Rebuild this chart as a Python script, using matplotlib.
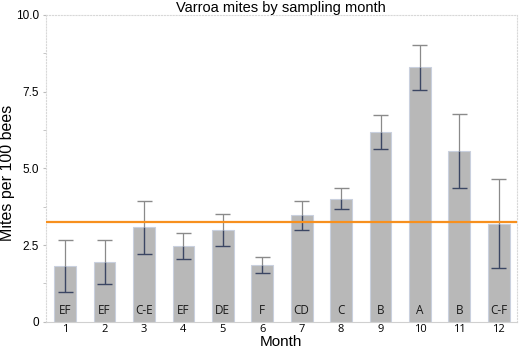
import numpy as np
import matplotlib.pyplot as plt

# data
months = np.arange(1, 13)
means = [1.83, 1.95, 3.09, 2.48, 2.99, 1.85, 3.48, 4.01, 6.20, 8.29, 5.57, 3.20]
lower = [0.96, 1.22, 2.22, 2.04, 2.47, 1.59, 2.99, 3.66, 5.64, 7.55, 4.35, 1.74]
upper = [2.66, 2.66, 3.93, 2.90, 3.51, 2.12, 3.94, 4.35, 6.74, 9.01, 6.77, 4.64]
groups = ["EF", "EF", "C-E", "EF", "DE", "F", "CD", "C", "B", "A", "B", "C-F"]
threshold = 3.25

fig = plt.figure(figsize=(5.2, 3.48), dpi=100)
ax = fig.add_axes([0.0875, 0.0756, 0.9065, 0.8814])

ax.bar(months, means, width=0.55, color="#b8b8b8", edgecolor="#c9d0de", linewidth=0.8, zorder=2)

# error bars: dark below the mean, light grey above it
dark = "#3b4663"
light = "#8a8a8a"
ax.vlines(months, lower, means, color=dark, linewidth=1.0, zorder=3)
ax.vlines(months, means, upper, color=light, linewidth=0.9, zorder=3)
ax.hlines(lower, months - 0.19, months + 0.19, color=dark, linewidth=1.0, zorder=3)
ax.hlines(upper, months - 0.19, months + 0.19, color=light, linewidth=1.0, zorder=3)

ax.axhline(threshold, color="#f7901e", linewidth=1.6, zorder=4)

for m, g in zip(months, groups):
    ax.text(m, 0.36, g, ha="center", va="center", fontsize=8.5, family="Open Sans", color="#1a1a1a", zorder=5)

ax.set_xlim(0.5, 12.46)
ax.set_ylim(0, 10)
ax.set_xticks(months)
ax.set_xticklabels([str(m) for m in months], family="Open Sans", fontsize=8)
ax.set_yticks([0, 2.5, 5, 7.5, 10])
ax.set_yticklabels(["0", "2.5", "5.0", "7.5", "10.0"], family="Liberation Sans", fontsize=8.5)
ax.set_yticks([1.25, 3.75, 6.25, 8.75], minor=True)
ax.tick_params(axis="x", length=0, pad=1.5)
ax.tick_params(axis="y", which="both", length=2.5, color="#bbbbbb", pad=2)

for side in ["top", "right", "left"]:
    ax.spines[side].set_color("#d8d8d8")
    ax.spines[side].set_linestyle(":")
    ax.spines[side].set_linewidth(0.8)
ax.spines["bottom"].set_color("#d0d0d0")
ax.spines["bottom"].set_linewidth(0.8)

ax.set_title("Varroa mites by sampling month", family="Liberation Sans", fontsize=10.5, pad=2)
ax.set_ylabel("Mites per 100 bees", family="Liberation Sans", fontsize=11.5)
ax.set_xlabel("Month", family="Liberation Sans", fontsize=11)
ax.yaxis.set_label_coords(-0.064, 0.485)
ax.xaxis.set_label_coords(0.5, -0.043)

fig.savefig("out.png", dpi=100)
